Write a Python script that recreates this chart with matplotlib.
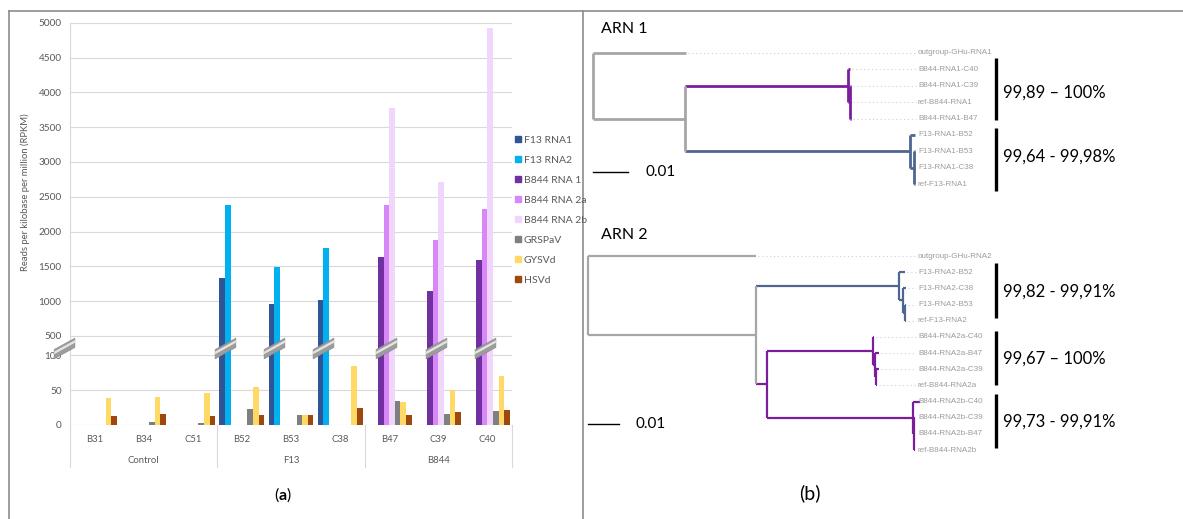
import numpy as np
import matplotlib
matplotlib.use("Agg")
import matplotlib.pyplot as plt
import matplotlib.transforms as mtransforms
from matplotlib.patches import Patch
from matplotlib.path import Path

plt.rcParams["font.family"] = ["Lato", "DejaVu Sans"]
plt.rcParams["mathtext.fontset"] = "custom"
plt.rcParams["mathtext.rm"] = "Lato"
plt.rcParams["mathtext.bf"] = "Lato:bold"

# ---- (a) bar chart data (RPKM) ----
samples = ["B31", "B34", "C51", "B52", "B53", "C38", "B47", "C39", "C40"]
groups = ["Control", "F13", "B844"]
series = ["F13 RNA1", "F13 RNA2", "B844 RNA 1", "B844 RNA 2a", "B844 RNA 2b",
          "GRSPaV", "GYSVd", "HSVd"]
f13_rna1 = [0.5, 0.5, 0.5, 1334, 956, 1010, 0.5, 0.5, 0.5]
f13_rna2 = [0.5, 0.5, 0.5, 2386, 1494, 1761, 0.5, 0.5, 0.5]
b844_rna1 = [0, 0, 0, 0.5, 0.5, 0.5, 1631, 1145, 1592]
b844_rna2a = [0, 0, 0, 0.5, 0.5, 0.5, 2386, 1880, 2319]
b844_rna2b = [0.5, 0.5, 0.5, 0.5, 0.5, 0.5, 3777, 2709, 4920]
grspav = [0.5, 4.4, 2.4, 23, 14.6, 0.5, 35, 16, 19.4]
gysvd = [38.4, 40.4, 46, 54, 14.6, 85, 33.5, 51, 71]
hsvd = [13, 16.5, 13, 14.6, 14.6, 24.8, 14.6, 18, 21.4]
yticks = [0, 50, 100, 500, 1000, 1500, 2000, 2500, 3000, 3500, 4000, 4500, 5000]

colors = ["#2F5597", "#00B0F0", "#7030A0", "#D787F7", "#F0D6FC",
          "#7F7F7F", "#FFD966", "#9E480E"]

# ---- (b) trees: (branch length, children or leaf name, [colour]) ----
GRAY, PURPLE, BLUE = "#A6A6A6", "#7B1E9E", "#4F6690"
tree_arn1 = (0, [
    (0.0266, "outgroup-GHu-RNA1"),
    (0.0263, [
        (0.0465, [(0.0007, "B844-RNA1-C40"),
                  (0.0007, [(0.0001, "B844-RNA1-C39"), (0.0001, "ref-B844-RNA1"),
                            (0.0001, "B844-RNA1-B47")])], PURPLE),
        (0.0643, [(0.0014, "F13-RNA1-B52"),
                  (0.0010, [(0.0003, "F13-RNA1-B53"), (0.0003, "F13-RNA1-C38"),
                            (0.0003, "ref-F13-RNA1")])], BLUE),
    ]),
], GRAY)
tree_arn2 = (0, [
    (0.0542, "outgroup-GHu-RNA2"),
    (0.0542, [
        (0.0461, [(0.0019, "F13-RNA2-B52"),
                  (0.0013, [(0.0010, "F13-RNA2-C38"),
                            (0.0006, [(0.0003, "F13-RNA2-B53"), (0.0003, "ref-F13-RNA2")])])],
         BLUE),
        (0.0035, [
            (0.0342, [(0.0003, "B844-RNA2a-C40"),
                      (0.0006, [(0.0013, "B844-RNA2a-B47"),
                                (0.0003, [(0.0010, "B844-RNA2a-C39"),
                                          (0.0003, "ref-B844-RNA2a")])])]),
            (0.0471, [(0.0023, "B844-RNA2b-C40"),
                      (0.0003, [(0.0003, "B844-RNA2b-C39"), (0.0003, "B844-RNA2b-B47"),
                                (0.0003, "ref-B844-RNA2b")])]),
        ], PURPLE),
    ]),
], GRAY)
identity_arn1 = ["99,89 – 100%", "99,64 - 99,98%"]
identity_arn2 = ["99,82 - 99,91%", "99,67 – 100%", "99,73 - 99,91%"]

W, H = 1183, 519
fig = plt.figure(figsize=(W / 100, H / 100), dpi=100)


def fx(px):
    return px / W


def fy(py):
    return 1 - py / H


# ---------------- panel (a) ----------------
brk_v = [0, 100, 500, 5000]
brk_d = [0, 2, 2.56, 11.56]


def fwd(v):
    return np.interp(v, brk_v, brk_d)


def inv(d):
    return np.interp(d, brk_d, brk_v)


ax = fig.add_axes([fx(70), fy(425), fx(512 - 70), (425 - 22.7) / H])
ax.set_yscale("function", functions=(fwd, inv))
ax.set_ylim(0, 5000)
ax.set_xlim(-0.5, len(samples) - 0.5)

values = [f13_rna1, f13_rna2, b844_rna1, b844_rna2a, b844_rna2b, grspav, gysvd, hsvd]
x = np.arange(len(samples))
bw = 0.114
for i, (vals, c, lab) in enumerate(zip(values, colors, series)):
    ax.bar(x + (i - 3.5) * bw, vals, width=bw, color=c, label=lab, zorder=3)

ax.set_yticks(yticks)
ax.set_yticklabels([str(t) for t in yticks])
ax.tick_params(axis="y", length=0, pad=6, labelsize=7.2, labelcolor="#595959")
ax.set_xticks([])
ax.yaxis.grid(True, color="#D9D9D9", lw=0.8)
ax.set_axisbelow(True)
for s in ["top", "right", "bottom"]:
    ax.spines[s].set_visible(False)
ax.spines["left"].set_color("#D9D9D9")
fig.text(fx(25), fy(192), "Reads per kilobase per million (RPKM)", rotation=90,
         ha="center", va="center", fontsize=6.8, color="#595959")

xt = ax.get_xaxis_transform()
for xi, s in zip(x, samples):
    ax.text(xi, -0.037, s, transform=xt, ha="center", va="center", fontsize=6.8, color="#595959")
for gi, g in enumerate(groups):
    ax.text(gi * 3 + 1, -0.089, g, transform=xt, ha="center", va="center", fontsize=6.8,
            color="#595959")
for b in [-0.5, 2.5, 5.5, 8.5]:
    ax.plot([b, b], [0, -0.104], transform=xt, color="#D9D9D9", lw=0.8, clip_on=False)

# axis break markers
band = Path([(-1, -1), (1, 0.1), (1, 1), (-1, -0.1), (-1, -1)])
shine = Path([(-1, -0.55), (1, 0.55), (1, 0.8), (-1, -0.3), (-1, -0.55),
              (-1, -1), (1, 1)], [1, 2, 2, 2, 2, 1, 1])
brk_val = 250
vals_arr = np.array(values)
mx, my = [-0.62], [brk_val]
for j in range(len(samples)):
    tall = np.where(vals_arr[:, j] > 500)[0]
    if len(tall):
        mx.append(x[j] + (tall.mean() - 3.5) * bw)
        my.append(brk_val)
ax.plot(mx, my, ls="none", marker=band, ms=15, mfc="#9C9C9C", mec="#8A8A8A", mew=0.4,
        zorder=5, clip_on=False)
ax.plot(mx, my, ls="none", marker=shine, ms=15, mfc="#E4E4E4", mec="none", zorder=6,
        clip_on=False)

handles = [Patch(color=c, label=l) for c, l in zip(colors, series)]
fig.legend(handles=handles, loc="upper left", bbox_to_anchor=(fx(515), fy(136)),
           frameon=False, fontsize=7.5, labelcolor="#595959", handlelength=0.55,
           handleheight=0.55, handletextpad=0.3, labelspacing=1.05, borderpad=0,
           borderaxespad=0)

fig.text(fx(283), fy(495), r"($\mathbf{a}$)", ha="center", va="center", fontsize=11.5)

# ---------------- panel (b) ----------------
def layout(node, xp, col, leaf_ys, segs, leaves):
    length, content = node[0], node[1]
    col = node[2] if len(node) > 2 else col
    xn = xp + length
    if isinstance(content, str):
        y = leaf_ys[len(leaves)]
        leaves.append((xn, y, content))
    else:
        ys = [layout(ch, xn, col, leaf_ys, segs, leaves) for ch in content]
        y = (ys[0] + ys[-1]) / 2
        segs.append(([xn, xn], [ys[0], ys[-1]], col))
    segs.append(([xp, xn], [y, y], col))
    return y


def count_leaves(node):
    if isinstance(node[1], str):
        return 1
    return sum(count_leaves(c) for c in node[1])


def draw_tree(tree, root_px, ppu, y0, step, lw, scale_y, bars, labels, lab_ys):
    axt = fig.add_axes([fx(583), 0, fx(600), 1])
    axt.set_axis_off()
    x0 = -(root_px - 583) / ppu
    axt.set_xlim(x0, x0 + 600 / ppu)
    axt.set_ylim(H, 0)
    n = count_leaves(tree)
    leaf_ys = [y0 + i * step for i in range(n)]
    segs, leaves = [], []
    layout(tree, 0, GRAY, leaf_ys, segs, leaves)
    for xs, ys, c in segs:
        axt.plot(xs, ys, color=c, lw=lw, solid_capstyle="butt")
    lab_x = x0 + (918 - 583) / ppu
    for xl, yl, name in leaves:
        if lab_x - xl > 4 / ppu:
            axt.plot([xl + 2 / ppu, lab_x - 2 / ppu], [yl, yl], color="#CFCFCF", lw=0.8,
                     ls=(0, (1, 2.5)))
        axt.text(lab_x, yl, name, ha="left", va="center", fontsize=5.8, color="#9C9C9C",
                 family=["Liberation Sans"])
    axt.plot([0, 0.01], [scale_y, scale_y], color="black", lw=1)
    axt.text(0.01 + 17 / ppu, scale_y, "0.01", ha="left", va="center", fontsize=11)
    bt = mtransforms.blended_transform_factory(fig.transFigure, axt.transData)
    for (ya, yb), lab, yl in zip(bars, labels, lab_ys):
        axt.plot([fx(996), fx(996)], [ya, yb], transform=bt, color="black", lw=2.4,
                 solid_capstyle="butt")
        axt.text(fx(1003), yl, lab, transform=bt, ha="left", va="center", fontsize=12)


draw_tree(tree_arn1, 593, 3500, 53, 16.375, 2.0, 172,
          [(58, 120), (128, 191)], identity_arn1, [93, 157])
draw_tree(tree_arn2, 588, 3100, 256, 16.17, 1.6, 424,
          [(263, 318), (331, 385), (394, 448)], identity_arn2, [292, 359, 422])

fig.text(fx(601), fy(29), "ARN 1", ha="left", va="center", fontsize=11.5)
fig.text(fx(601), fy(235), "ARN 2", ha="left", va="center", fontsize=11.5)
fig.text(fx(810), fy(493), "(b)", ha="center", va="center", fontsize=14)

# frame
fig.add_artist(plt.Line2D([fx(9), 1], [fy(10.5), fy(10.5)], color="#8C8C8C", lw=1.2))
fig.add_artist(plt.Line2D([fx(9), fx(9)], [fy(10.5), 0], color="#8C8C8C", lw=1.2))
fig.add_artist(plt.Line2D([fx(583), fx(583)], [fy(10.5), 0], color="#8C8C8C", lw=1.2))

fig.savefig("out.png", dpi=100, facecolor="white")
